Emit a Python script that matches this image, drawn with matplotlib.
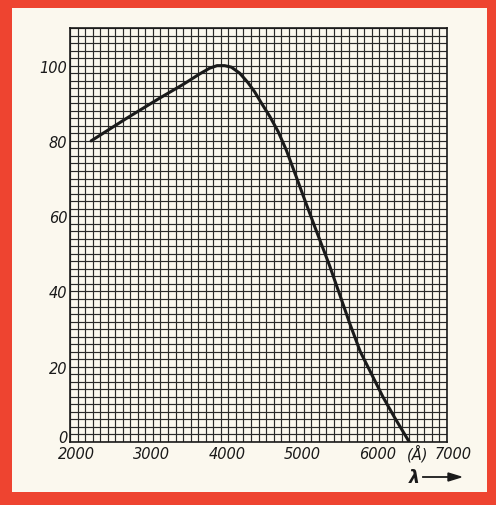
#!/usr/bin/env python3
# -*- coding: utf-8 -*-
"""Relative spectral response vs wavelength, on graph-paper grid with red frame."""

import numpy as np
import matplotlib
matplotlib.use("Agg")
import matplotlib.pyplot as plt
from matplotlib.patches import Rectangle
from matplotlib.transforms import ScaledTranslation

# data
wavelength = [2280, 2750, 3200, 3500, 3720, 3850, 3950, 4050, 4140, 4250,
              4360, 4450, 4540, 4650, 4760, 4870, 5000, 5110, 5250, 5440,
              5580, 5710, 5850, 5975, 6150, 6305, 6500]
response = [80, 86, 91.5, 95, 97.8, 99.3, 100, 100, 99.6, 98,
            95.5, 93, 90, 86.5, 82.5, 77.5, 70.5, 64.5, 57, 47,
            39, 31.5, 24, 19, 12, 6.5, 0]

x_ticks = [2000, 3000, 4000, 5000, 6000, 7000]
x_tick_labels = ["2000", "3000", "4000", "5000", "6000", "7000"]
y_ticks = [0, 20, 40, 60, 80, 100]
y_tick_labels = ["0", "20", "40", "60", "80", "100"]

RED = "#ee4430"
CREAM = "#fbf8ee"
INK = "#1a1a1a"

W, H = 496, 506
fig = plt.figure(figsize=(W / 100, H / 100), dpi=100)
fig.patch.set_facecolor(RED)

# cream paper inside the red frame
fig.patches.append(Rectangle((12 / W, 13 / H), (487 - 12) / W, (497 - 13) / H,
                             transform=fig.transFigure, facecolor=CREAM,
                             edgecolor="none", zorder=-5))

ax = fig.add_axes([70 / W, (H - 443) / H, 377 / W, 414 / H])
ax.set_facecolor(CREAM)
ax.set_xlim(2000, 7000)
ax.set_ylim(0, 110)

# graph paper grid
ax.set_xticks(np.arange(2000, 7001, 100), minor=True)
ax.set_yticks(np.arange(0, 111, 2), minor=True)
ax.grid(which="minor", color="#2a2a2a", linewidth=0.85)
ax.grid(which="major", color="#2a2a2a", linewidth=0.85)
ax.set_axisbelow(True)
for spine in ax.spines.values():
    spine.set_color(INK)
    spine.set_linewidth(1.2)

ax.plot(wavelength, response, color=INK, linewidth=2.2, solid_capstyle="round",
        solid_joinstyle="round", zorder=3)

font = dict(family="DejaVu Sans", style="italic", size=10.5, color=INK)
ax.set_xticks(x_ticks)
ax.set_xticklabels(x_tick_labels, **font)
ax.set_yticks(y_ticks)
ax.set_yticklabels(y_tick_labels, **font)
ax.tick_params(which="both", length=0)
ax.tick_params(axis="x", pad=3)
ax.tick_params(axis="y", pad=2)
shift = ScaledTranslation(6 / 100, 0, fig.dpi_scale_trans)
for lab in ax.get_xticklabels():
    lab.set_transform(lab.get_transform() + shift)
# the "0" sits a little above the baseline
lift = ScaledTranslation(0, 6 / 100, fig.dpi_scale_trans)
ylabs = ax.get_yticklabels()
ylabs[0].set_transform(ylabs[0].get_transform() + lift)

# unit and axis label
fig.text(418 / W, 1 - 454 / H, "(Å)", ha="center", va="center", **font)
fig.text(414 / W, 1 - 478 / H, "λ", ha="center", va="center",
         family="DejaVu Sans", style="italic", weight="bold", size=12.5,
         color=INK)
fig.add_artist(plt.Line2D([423 / W, 452 / W], [1 - 478 / H, 1 - 478 / H],
                          color=INK, linewidth=1.3))
fig.add_artist(plt.Polygon([[448 / W, 1 - 474 / H], [461 / W, 1 - 478 / H],
                            [448 / W, 1 - 482 / H]], closed=True,
                           transform=fig.transFigure, facecolor=INK,
                           edgecolor=INK))

fig.savefig("out.png", dpi=100, facecolor=fig.get_facecolor())
